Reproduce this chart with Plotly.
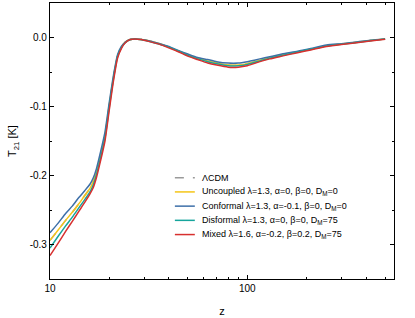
import plotly.graph_objects as go

z = [10, 11, 12, 13, 14, 15, 16, 16.6, 17.2, 18, 19, 20, 21, 22, 23, 24, 25.5, 27, 29, 32,
     36, 40, 45, 50, 56, 63, 70, 80, 90, 100, 116, 130, 150, 180, 210, 252, 300, 350, 420, 500]

lcdm = [-0.294, -0.279, -0.265, -0.253, -0.241, -0.229, -0.218, -0.208, -0.195, -0.172, -0.142, -0.097,
        -0.057, -0.027, -0.014, -0.007, -0.003, -0.002, -0.003, -0.005, -0.009, -0.014, -0.020, -0.025,
        -0.030, -0.034, -0.037, -0.040, -0.040, -0.038, -0.033, -0.029, -0.025, -0.021, -0.017, -0.012,
        -0.0095, -0.0072, -0.0045, -0.002]
uncoupled = [-0.294, -0.279, -0.265, -0.253, -0.241, -0.229, -0.218, -0.208, -0.195, -0.172, -0.142, -0.097,
             -0.057, -0.027, -0.014, -0.007, -0.003, -0.002, -0.003, -0.005, -0.009, -0.014, -0.020, -0.025,
             -0.030, -0.034, -0.037, -0.040, -0.040, -0.038, -0.033, -0.029, -0.025, -0.021, -0.017, -0.012,
             -0.0095, -0.0072, -0.0045, -0.002]
conformal = [-0.283, -0.269, -0.255, -0.244, -0.232, -0.222, -0.212, -0.203, -0.190, -0.167, -0.137, -0.093,
             -0.054, -0.025, -0.013, -0.007, -0.003, -0.002, -0.003, -0.005, -0.009, -0.013, -0.019, -0.024,
             -0.029, -0.032, -0.035, -0.037, -0.037, -0.035, -0.031, -0.028, -0.024, -0.020, -0.016, -0.011,
             -0.009, -0.007, -0.004, -0.002]
disformal = [-0.305, -0.288, -0.273, -0.260, -0.247, -0.235, -0.223, -0.213, -0.199, -0.176, -0.146, -0.100,
             -0.059, -0.028, -0.015, -0.008, -0.003, -0.002, -0.003, -0.006, -0.010, -0.014, -0.020, -0.026,
             -0.031, -0.035, -0.038, -0.041, -0.041, -0.039, -0.034, -0.030, -0.026, -0.021, -0.017, -0.0125,
             -0.0098, -0.0075, -0.0048, -0.002]
mixed = [-0.316, -0.298, -0.281, -0.266, -0.252, -0.239, -0.226, -0.217, -0.203, -0.180, -0.150, -0.104,
         -0.062, -0.030, -0.016, -0.008, -0.003, -0.002, -0.003, -0.006, -0.010, -0.015, -0.021, -0.027,
         -0.032, -0.037, -0.040, -0.043, -0.043, -0.041, -0.035, -0.031, -0.027, -0.022, -0.018, -0.013,
         -0.010, -0.0078, -0.005, -0.0025]

names = ["ΛCDM",
         "Uncoupled λ=1.3, α=0, β=0, D<sub>M</sub>=0",
         "Conformal λ=1.3, α=-0.1, β=0, D<sub>M</sub>=0",
         "Disformal λ=1.3, α=0, β=0, D<sub>M</sub>=75",
         "Mixed λ=1.6, α=-0.2, β=0.2, D<sub>M</sub>=75"]
colors = ["#9a9a9a", "#F5C518", "#3D6FA8", "#16A59C", "#D7302F"]
series = [lcdm, uncoupled, conformal, disformal, mixed]
dashes = ["dash", "solid", "solid", "solid", "solid"]

font = "Arial, Liberation Sans, sans-serif"

fig = go.Figure()
for n, c, s, d in zip(names, colors, series, dashes):
    fig.add_trace(go.Scatter(x=z, y=s, mode="lines", name=n, showlegend=False,
                             line=dict(color=c, width=1.5, dash=d, shape="spline", smoothing=0.6)))

# compact legend (rows 15 px apart, as in the reference)
leg_x0, leg_x1, leg_tx = 0.363, 0.421, 0.436
leg_y0, leg_dy = 0.367, 0.0515
for i, (n, c, d) in enumerate(zip(names, colors, dashes)):
    yy = leg_y0 - i * leg_dy
    fig.add_shape(type="line", xref="paper", yref="paper", x0=leg_x0, x1=leg_x1, y0=yy, y1=yy,
                  line=dict(color=c, width=1.5, dash="dash" if d == "dash" else "solid"))
    fig.add_annotation(xref="paper", yref="paper", x=leg_tx, y=yy, text=n, showarrow=False,
                       xanchor="left", yanchor="middle", font=dict(size=9, family=font, color="black"))

fig.update_layout(
    width=415, height=318,
    margin=dict(l=50, r=21, t=2, b=38),
    paper_bgcolor="white", plot_bgcolor="white",
    font=dict(family=font, size=10, color="black"),
    showlegend=False,
)
fig.update_xaxes(
    type="log", range=[1, 2.744],
    tickvals=[10, 100], ticktext=["10", "100"],
    ticks="inside", ticklen=4, tickwidth=1, tickcolor="black",
    minor=dict(tickvals=[20, 30, 40, 50, 60, 70, 80, 90, 200, 300, 400, 500],
               ticks="inside", ticklen=2, tickcolor="black"),
    showline=True, linecolor="black", linewidth=1.2, mirror="ticks",
    showgrid=False, zeroline=False,
    title=dict(text="z", font=dict(size=11), standoff=14),
)
fig.update_yaxes(
    range=[-0.35, 0.05],
    tickvals=[0.0, -0.1, -0.2, -0.3], ticktext=["0.0", "-0.1", "-0.2", "-0.3"],
    ticks="inside", ticklen=4, tickwidth=1, tickcolor="black",
    minor=dict(tickvals=[0.05, -0.05, -0.15, -0.25, -0.35], ticks="inside", ticklen=2, tickcolor="black"),
    showline=True, linecolor="black", linewidth=1.2, mirror="ticks",
    showgrid=False, zeroline=False,
    title=dict(text="T<sub>21</sub> [K]", font=dict(size=11), standoff=10),
)
fig.write_html("out.html", config={"displayModeBar": False},
               post_script="document.body.style.margin='0';")
